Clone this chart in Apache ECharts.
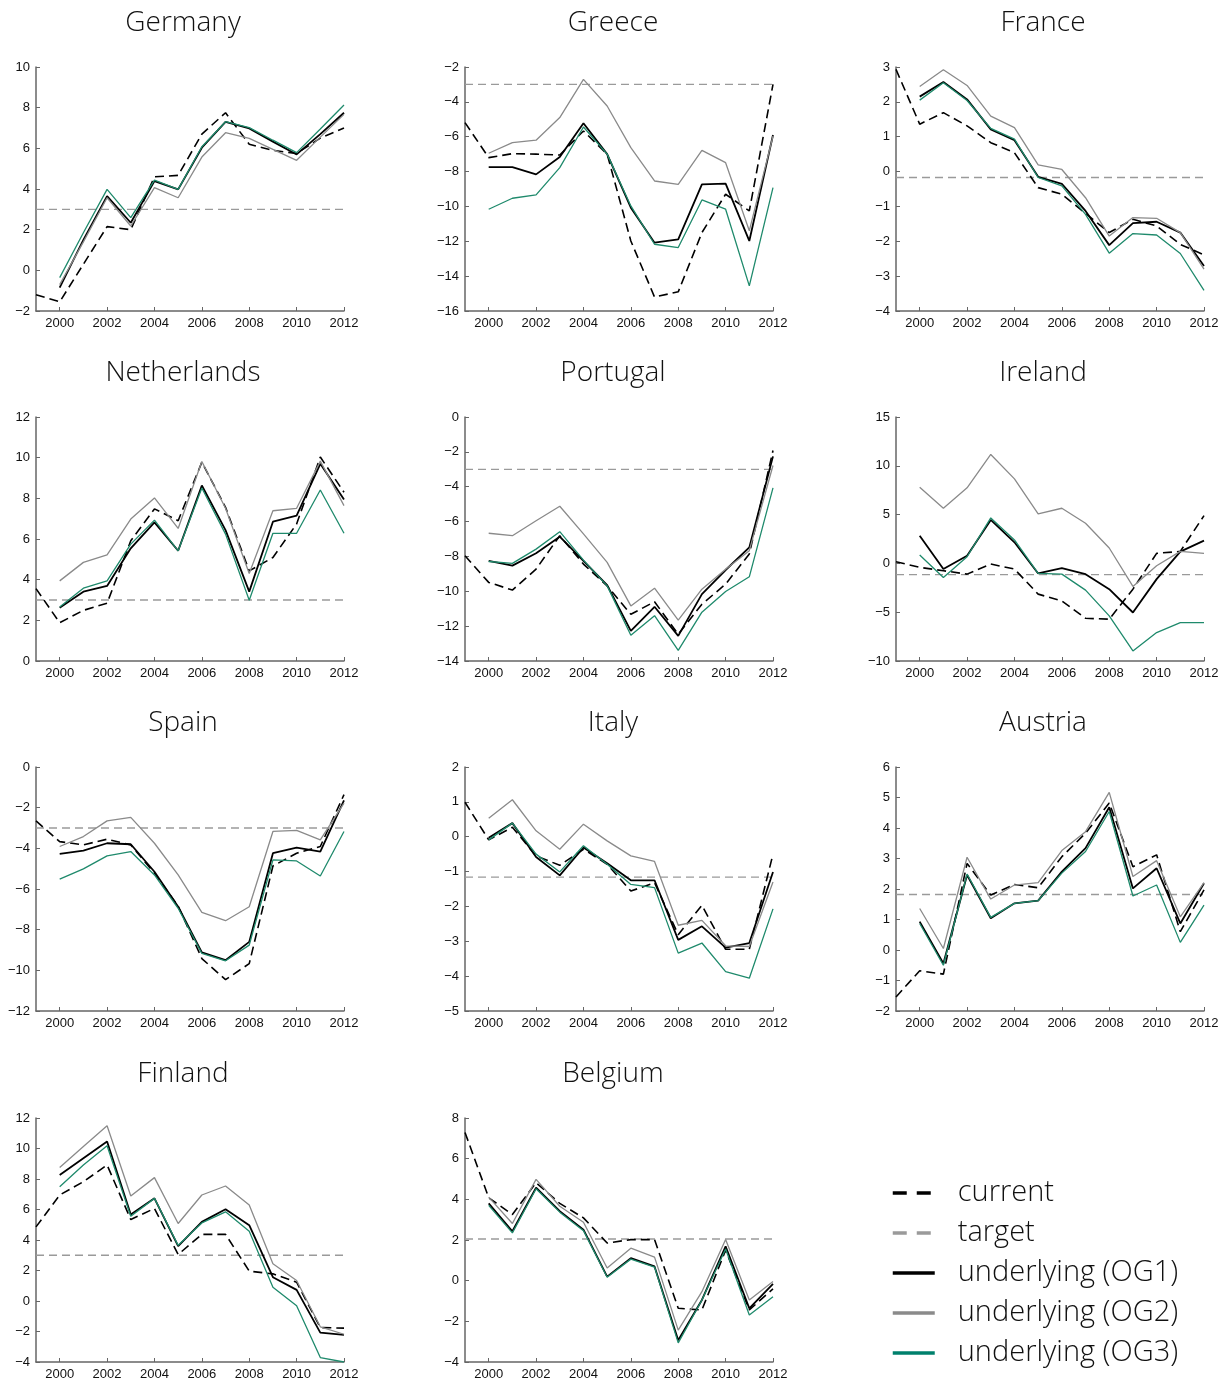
<!DOCTYPE html>
<html>
<head>
<meta charset="utf-8">
<script src="https://cdn.jsdelivr.net/npm/echarts@6/dist/echarts.min.js"></script>
<style>
  html, body { margin: 0; padding: 0; background: #fff; }
  #chart { width: 1231px; height: 1382px; }
</style>
</head>
<body>
<div id="chart"></div>
<script>
// Budget balance (% of GDP): current, target and underlying balances
// under three output-gap estimates, 1999-2012.
const years = ['1999','2000','2001','2002','2003','2004','2005','2006','2007','2008','2009','2010','2011','2012'];
const countries = ['Germany','Greece','France','Netherlands','Portugal','Ireland','Spain','Italy','Austria','Finland','Belgium'];

// y-axis ranges and tick steps per panel
const yMin  = [-2, -16, -4, 0, -14, -10, -12, -5, -2, -4, -4];
const yMax  = [10, -2, 3, 12, 0, 15, 0, 2, 6, 12, 8];
const yStep = [2, 2, 1, 2, 2, 5, 2, 1, 1, 2, 2];

const target = [3, -3, -0.17, 3, -3, -1.16, -3, -1.16, 1.82, 3, 2.05];

// current balance, 1999-2012
const current = [
  [-1.2, -1.55, 0.3, 2.15, 2.0, 4.6, 4.67, 6.7, 7.75, 6.2, 5.9, 5.75, 6.5, 7.0],
  [-5.19, -7.2, -6.97, -7.0, -7.05, -5.67, -7.0, -11.98, -15.2, -14.9, -11.5, -9.3, -10.26, -3.0],
  [2.93, 1.36, 1.69, 1.31, 0.83, 0.54, -0.46, -0.65, -1.2, -1.75, -1.37, -1.56, -2.09, -2.39],
  [3.56, 1.88, 2.49, 2.84, 5.91, 7.48, 6.9, 9.78, 7.56, 4.43, 5.09, 6.74, 10.03, 8.3],
  [-7.96, -9.49, -9.93, -8.73, -6.81, -8.44, -9.69, -11.32, -10.6, -12.47, -10.74, -9.59, -7.86, -1.92],
  [0.17, -0.41, -0.75, -1.1, -0.07, -0.58, -3.15, -3.84, -5.62, -5.72, -2.64, 1.03, 1.23, 4.9],
  [-2.65, -3.67, -3.83, -3.55, -3.83, -5.23, -6.84, -9.42, -10.46, -9.67, -4.87, -4.24, -3.91, -1.36],
  [0.99, -0.09, 0.27, -0.55, -0.82, -0.36, -0.79, -1.56, -1.32, -2.81, -1.97, -3.23, -3.23, -0.5],
  [-1.54, -0.68, -0.79, 2.84, 1.8, 2.15, 2.04, 3.06, 3.83, 4.82, 2.73, 3.12, 0.6, 1.97],
  [4.86, 6.95, 7.82, 8.92, 5.34, 6.07, 3.05, 4.37, 4.37, 1.96, 1.78, 1.23, -1.74, -1.78],
  [7.29, 4.08, 3.25, 4.82, 3.8, 3.09, 1.85, 2.02, 2.02, -1.36, -1.44, 1.5, -1.44, -0.4]
];

// underlying balance, 2000-2012, output gap estimate 1
const og1 = [
  [-0.85, 1.5, 3.65, 2.34, 4.39, 3.98, 6.03, 7.3, 6.98, 6.33, 5.7, 6.7, 7.75],
  [-7.74, -7.74, -8.16, -7.16, -5.23, -7.0, -10.07, -12.08, -11.89, -8.73, -8.69, -11.98, -5.9],
  [2.15, 2.57, 2.07, 1.21, 0.9, -0.15, -0.35, -1.13, -2.11, -1.48, -1.44, -1.75, -2.71],
  [2.62, 3.41, 3.69, 5.54, 6.82, 5.42, 8.63, 6.44, 3.41, 6.85, 7.15, 9.7, 7.94],
  [-8.25, -8.53, -7.82, -6.87, -8.25, -9.65, -12.27, -10.89, -12.56, -10.16, -8.78, -7.48, -2.26],
  [2.84, -0.58, 0.79, 4.45, 2.16, -1.03, -0.48, -1.1, -2.64, -5.03, -1.61, 1.2, 2.33],
  [-4.27, -4.11, -3.75, -3.8, -5.15, -6.87, -9.12, -9.5, -8.6, -4.24, -3.96, -4.16, -1.64],
  [-0.03, 0.39, -0.58, -1.11, -0.31, -0.76, -1.25, -1.25, -2.96, -2.57, -3.18, -3.05, -1.01],
  [0.93, -0.44, 2.46, 1.04, 1.53, 1.62, 2.57, 3.34, 4.68, 2.02, 2.68, 0.87, 2.19],
  [8.26, 9.36, 10.46, 5.67, 6.73, 3.6, 5.19, 6.02, 4.97, 1.56, 0.73, -2.07, -2.22],
  [3.8, 2.43, 4.57, 3.42, 2.51, 0.2, 1.11, 0.7, -2.93, -0.95, 1.69, -1.36, -0.16]
];

// underlying balance, 2000-2012, output gap estimate 2
const og2 = [
  [-0.7, 1.4, 3.57, 2.18, 4.07, 3.57, 5.57, 6.77, 6.49, 5.95, 5.41, 6.55, 7.67],
  [-6.95, -6.34, -6.2, -4.9, -2.71, -4.24, -6.63, -8.54, -8.73, -6.78, -7.49, -11.4, -5.96],
  [2.44, 2.92, 2.47, 1.59, 1.26, 0.19, 0.06, -0.75, -1.85, -1.32, -1.34, -1.75, -2.8],
  [3.94, 4.85, 5.22, 6.98, 8.02, 6.52, 9.81, 7.51, 4.3, 7.39, 7.51, 9.83, 7.64],
  [-6.67, -6.81, -5.95, -5.12, -6.71, -8.34, -10.84, -9.82, -11.66, -9.88, -8.73, -7.67, -2.78],
  [7.81, 5.65, 7.74, 11.16, 8.66, 5.07, 5.65, 4.11, 1.58, -2.36, -0.24, 1.23, 1.03],
  [-3.91, -3.42, -2.65, -2.48, -3.75, -5.31, -7.15, -7.56, -6.87, -3.17, -3.12, -3.58, -1.78],
  [0.53, 1.06, 0.17, -0.36, 0.36, -0.12, -0.55, -0.71, -2.54, -2.4, -3.13, -3.15, -1.3],
  [1.36, 0.05, 3.04, 1.67, 2.13, 2.21, 3.26, 3.88, 5.17, 2.41, 2.93, 1.09, 2.21],
  [8.75, 10.13, 11.49, 6.88, 8.09, 5.08, 6.95, 7.54, 6.29, 2.44, 1.34, -1.69, -2.18],
  [4.11, 2.81, 4.98, 3.66, 2.87, 0.62, 1.6, 1.16, -2.43, -0.54, 2.02, -0.95, -0.04]
];

// underlying balance, 2000-2012, output gap estimate 3
const og3 = [
  [-0.36, 1.85, 3.98, 2.59, 4.44, 3.98, 6.08, 7.31, 7.02, 6.4, 5.79, 6.95, 8.13],
  [-10.16, -9.53, -9.34, -7.77, -5.44, -7.0, -9.97, -12.17, -12.36, -9.63, -10.16, -14.56, -8.92],
  [2.05, 2.55, 2.04, 1.24, 0.93, -0.17, -0.41, -1.23, -2.34, -1.78, -1.82, -2.35, -3.41],
  [2.66, 3.58, 3.94, 5.75, 6.93, 5.42, 8.51, 6.24, 2.99, 6.28, 6.28, 8.41, 6.28],
  [-8.29, -8.4, -7.58, -6.58, -8.21, -9.69, -12.52, -11.4, -13.39, -11.2, -10.01, -9.17, -4.07],
  [0.86, -1.44, 0.68, 4.66, 2.4, -1.03, -1.1, -2.74, -5.38, -8.97, -7.09, -6.06, -6.06],
  [-5.51, -5.01, -4.37, -4.16, -5.31, -6.95, -9.17, -9.53, -8.76, -4.57, -4.62, -5.36, -3.17],
  [-0.09, 0.39, -0.5, -1.01, -0.26, -0.79, -1.37, -1.46, -3.34, -3.05, -3.87, -4.06, -2.07],
  [0.87, -0.5, 2.49, 1.07, 1.53, 1.62, 2.52, 3.23, 4.54, 1.77, 2.13, 0.25, 1.47],
  [7.49, 8.92, 10.18, 5.56, 6.73, 3.65, 5.12, 5.85, 4.57, 0.9, -0.31, -3.71, -4.0],
  [3.7, 2.35, 4.52, 3.37, 2.46, 0.17, 1.06, 0.67, -3.06, -0.95, 1.56, -1.69, -0.79]
];

// panel layout
const colLeft = [36, 465, 896];
const colTitle = [178, 608, 1038];
const rowTop = [67, 417, 767, 1118];
const plotW = 308, plotH = 244;

const BLACK = '#000000', GREY = '#8a8a8a', TARGET_GREY = '#9a9a9a', GREEN = '#1f8a6c';
const LABEL_FONT = '"Liberation Sans", Arial, sans-serif';
const TEXT_FONT = '"Open Sans", "DejaVu Sans", sans-serif';

const minus = v => String(v).replace('-', '\u2212');

const grids = [], xAxes = [], yAxes = [], titles = [], series = [];

countries.forEach((name, i) => {
  const col = i % 3, row = Math.floor(i / 3);
  grids.push({ left: colLeft[col], top: rowTop[row], width: plotW, height: plotH });
  titles.push({
    text: name, left: colTitle[col], top: rowTop[row] - 63, textAlign: 'center',
    textStyle: { fontFamily: TEXT_FONT, fontWeight: 300, fontSize: 28, color: '#111' }
  });
  xAxes.push({
    type: 'category', gridIndex: i, data: years, boundaryGap: false,
    axisLine: { onZero: false, lineStyle: { color: '#666', width: 1.5 } },
    axisTick: { inside: true, length: 4, interval: (idx) => idx % 2 === 1, lineStyle: { color: '#666' } },
    axisLabel: { interval: (idx) => idx % 2 === 1, color: '#111', fontFamily: LABEL_FONT, fontSize: 13, margin: 6 },
    splitLine: { show: false }
  });
  yAxes.push({
    type: 'value', gridIndex: i, min: yMin[i], max: yMax[i], interval: yStep[i],
    axisLine: { show: true, onZero: false, lineStyle: { color: '#666', width: 1.5 } },
    axisTick: { show: true, inside: true, length: 4, lineStyle: { color: '#666' } },
    axisLabel: { color: '#111', fontFamily: LABEL_FONT, fontSize: 13, margin: 6, formatter: minus },
    splitLine: { show: false }
  });

  const common = { type: 'line', xAxisIndex: i, yAxisIndex: i, symbol: 'none', silent: true, animation: false };
  series.push(Object.assign({}, common, {
    name: 'current', data: current[i], z: 2,
    itemStyle: { color: BLACK },
    lineStyle: { color: BLACK, width: 1.6, type: [9, 5] }
  }));
  series.push(Object.assign({}, common, {
    name: 'target', data: years.map(() => target[i]), z: 1,
    itemStyle: { color: TARGET_GREY },
    lineStyle: { color: TARGET_GREY, width: 1.3, type: [8, 5] }
  }));
  series.push(Object.assign({}, common, {
    name: 'underlying (OG1)', data: [null].concat(og1[i]), z: 3,
    itemStyle: { color: BLACK },
    lineStyle: { color: BLACK, width: 1.8 }
  }));
  series.push(Object.assign({}, common, {
    name: 'underlying (OG2)', data: [null].concat(og2[i]), z: 3,
    itemStyle: { color: GREY },
    lineStyle: { color: GREY, width: 1.3 }
  }));
  series.push(Object.assign({}, common, {
    name: 'underlying (OG3)', data: [null].concat(og3[i]), z: 4,
    itemStyle: { color: GREEN },
    lineStyle: { color: GREEN, width: 1.3 }
  }));
});

const chart = echarts.init(document.getElementById('chart'), null, { renderer: 'canvas' });
chart.setOption({
  backgroundColor: '#ffffff',
  animation: false,
  title: titles,
  grid: grids,
  xAxis: xAxes,
  yAxis: yAxes,
  legend: {
    orient: 'vertical', left: 886, top: 1168,
    itemWidth: 42, itemHeight: 14, itemGap: 0,
    selectedMode: false,
    itemStyle: { opacity: 0 },
    lineStyle: { width: 3.5 },
    textStyle: { fontFamily: TEXT_FONT, fontWeight: 300, fontSize: 29, color: '#111', lineHeight: 40, padding: [0, 0, 0, 18] },
    data: [
      { name: 'current', lineStyle: { type: [14, 10], color: BLACK } },
      { name: 'target', lineStyle: { type: [14, 10], color: TARGET_GREY } },
      { name: 'underlying (OG1)', lineStyle: { color: BLACK } },
      { name: 'underlying (OG2)', lineStyle: { color: GREY } },
      { name: 'underlying (OG3)', lineStyle: { color: '#00806c' } }
    ]
  },
  series: series
});
</script>
</body>
</html>
